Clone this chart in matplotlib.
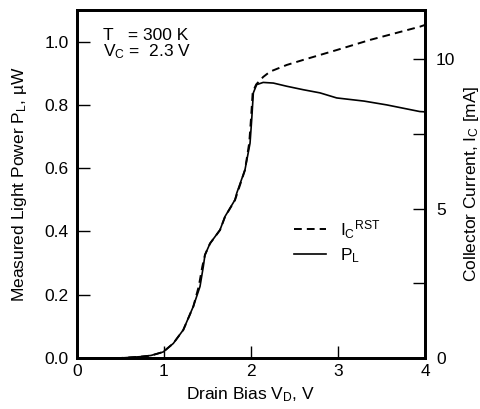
import numpy as np
import matplotlib
matplotlib.use("Agg")
import matplotlib.pyplot as plt

plt.rcParams['font.family'] = ['Liberation Sans', 'DejaVu Sans']
plt.rcParams['mathtext.default'] = 'regular'
plt.rcParams['font.size'] = 12.5

# light power P_L (uW) vs drain bias (V)
vd_pl = [0.0, 0.5, 0.72, 0.85, 0.99, 1.107, 1.222, 1.337, 1.414, 1.452, 1.471, 1.529,
         1.644, 1.701, 1.816, 1.836, 1.931, 1.989, 2.008, 2.027, 2.065, 2.14, 2.257,
         2.41, 2.60, 2.793, 2.985, 3.3, 3.56, 3.94, 4.0]
pl = [0.0, 0.0, 0.004, 0.008, 0.019, 0.046, 0.089, 0.163, 0.226, 0.289, 0.326, 0.362,
      0.405, 0.447, 0.50, 0.521, 0.595, 0.679, 0.753, 0.838, 0.864, 0.871, 0.869,
      0.859, 0.848, 0.838, 0.822, 0.812, 0.80, 0.779, 0.778]

# collector current I_C^RST (mA) vs drain bias (V)
vd_ic = [0.0, 0.5, 0.72, 0.85, 0.99, 1.107, 1.222, 1.337, 1.40, 1.44, 1.471, 1.529,
         1.644, 1.701, 1.816, 1.931, 1.98, 2.0, 2.02, 2.06, 2.14, 2.22, 2.41, 2.60,
         2.985, 3.37, 3.94, 4.0]
ic = [0.0, 0.0, 0.04, 0.08, 0.2, 0.49, 0.94, 1.72, 2.4, 3.05, 3.45, 3.83,
      4.28, 4.72, 5.28, 6.29, 7.2, 8.0, 8.9, 9.15, 9.4, 9.58, 9.8, 9.97,
      10.30, 10.64, 11.08, 11.14]

fig = plt.figure(figsize=(4.8, 4.09), dpi=100)
ax = fig.add_axes([0.1604, 0.1247, 0.725, 0.8509])
ax2 = ax.twinx()

ax2.plot(vd_ic, ic, color='black', lw=1.4, dashes=(4, 2.6), label=r'I$_C$$^{RST}$')
ax.plot(vd_pl, pl, color='black', lw=1.2, label=r'P$_L$')

ax.set_xlim(0, 4)
ax.set_ylim(0, 1.1)
ax2.set_ylim(0, 11.64)

ax.set_xticks([0, 1, 2, 3, 4])
ax.set_yticks([0.0, 0.2, 0.4, 0.6, 0.8, 1.0])
ax.set_yticklabels(['0.0', '0.2', '0.4', '0.6', '0.8', '1.0'])
ax2.set_yticks([0, 2.5, 5, 7.5, 10])
ax2.set_yticklabels(['0', '', '5', '', '10'])

ax.tick_params(axis='x', direction='in', length=9, width=1, pad=4)
ax.tick_params(axis='y', direction='in', length=9, width=1, pad=6)
ax2.tick_params(axis='y', direction='in', length=9, width=1, pad=8)
for a in (ax, ax2):
    for s in a.spines.values():
        s.set_linewidth(2)

ax.set_xlabel(r'Drain Bias V$_D$, V', labelpad=5)
ax.set_ylabel(r'Measured Light Power P$_L$, µW', labelpad=11)
ax2.set_ylabel(r'Collector Current, I$_C$ [mA]', labelpad=5)

ax.text(0.075, 0.915, 'T   = 300 K', transform=ax.transAxes, va='baseline')
ax.text(0.075, 0.868, r'V$_C$ =  2.3 V', transform=ax.transAxes, va='baseline')

h1, l1 = ax2.get_legend_handles_labels()
h2, l2 = ax.get_legend_handles_labels()
ax2.legend(h1 + h2, l1 + l2, loc='center left', bbox_to_anchor=(0.605, 0.335),
           frameon=False, handlelength=1.8, handletextpad=0.8, labelspacing=0.3,
           borderaxespad=0)

fig.savefig('out.png', dpi=100)
